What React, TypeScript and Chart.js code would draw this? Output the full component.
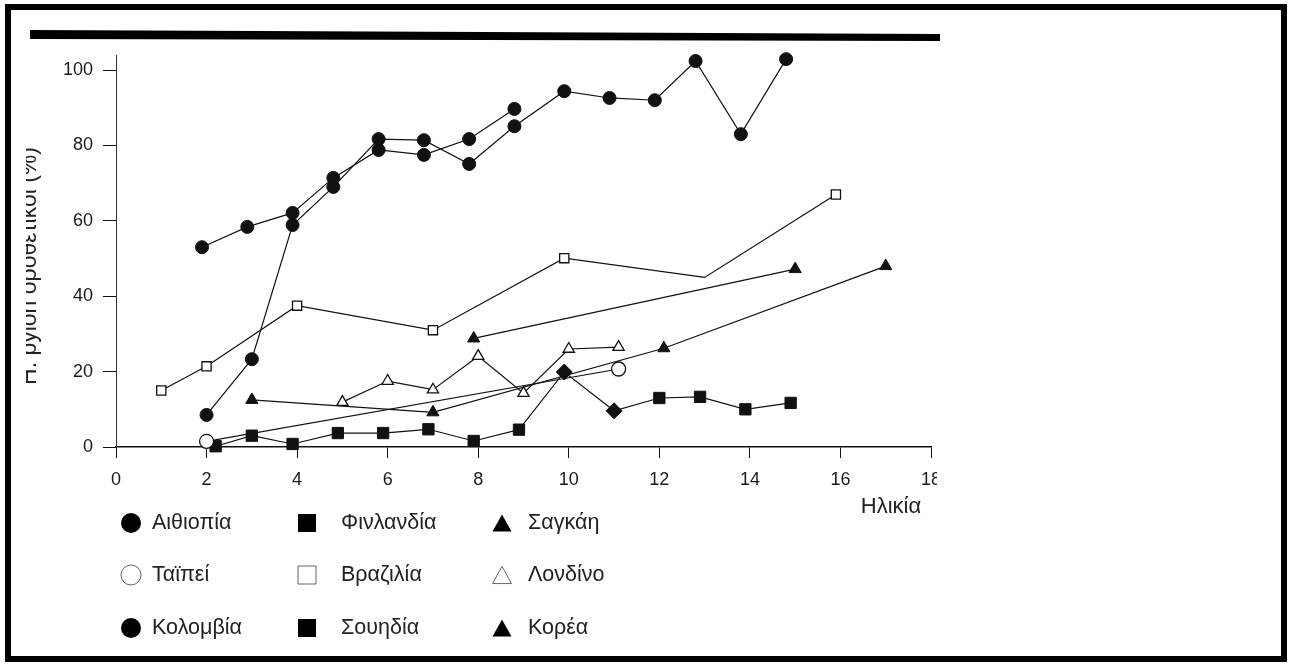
import React, { useEffect, useRef } from "react";
import { Chart, registerables } from "chart.js";

Chart.register(...registerables);

// ---------------- data ----------------
const xTickValues = [0, 2, 4, 6, 8, 10, 12, 14, 16, 18];
const yTickValues = [0, 20, 40, 60, 80, 100];

const ethiopiaAge = [2.0, 3.0, 3.9, 4.8, 5.8, 6.8, 7.8, 8.8, 9.9, 10.9, 11.9, 12.8, 13.8, 14.8];
const ethiopiaPct = [8.5, 23.3, 58.9, 69.0, 81.7, 81.4, 75.1, 85.1, 94.4, 92.6, 92.0, 102.4, 83.0, 102.9];

const taipeiAge = [2.0, 11.1];
const taipeiPct = [1.5, 20.7];

const colombiaAge = [1.9, 2.9, 3.9, 4.8, 5.8, 6.8, 7.8, 8.8];
const colombiaPct = [53.0, 58.4, 62.1, 71.4, 78.8, 77.5, 81.7, 89.7];

const finlandAge = [2.2, 3.0, 3.9, 4.9, 5.9, 6.9, 7.9, 8.9];
const finlandPct = [0.2, 3.0, 0.8, 3.7, 3.7, 4.7, 1.6, 4.6];

const brazilAge = [1.0, 2.0, 4.0, 7.0, 9.9, 13.0, 15.9];
const brazilPct = [15.0, 21.4, 37.5, 31.0, 50.1, 45.0, 67.0];

const swedenAge = [9.9, 11.0, 12.0, 12.9, 13.9, 14.9];
const swedenPct = [19.9, 9.6, 13.0, 13.3, 10.0, 11.7];

const shanghaiAge = [7.9, 15.0];
const shanghaiPct = [28.8, 47.2];

const londonAge = [5.0, 6.0, 7.0, 8.0, 9.0, 10.0, 11.1];
const londonPct = [11.9, 17.5, 15.2, 24.1, 14.3, 26.0, 26.5];

const koreaAge = [3.0, 7.0, 12.1, 17.0];
const koreaPct = [12.5, 9.2, 26.2, 48.0];

const seriesNames = [
  "Αιθιοπία",
  "Ταϊπεί",
  "Κολομβία",
  "Φινλανδία",
  "Βραζιλία",
  "Σουηδία",
  "Σαγκάη",
  "Λονδίνο",
  "Κορέα",
];
const yAxisTitle = "H. pylori οροθετικοί (%)";
const xAxisTitle = "Ηλικία";

// ---------------- helpers ----------------
const pts = (xs: number[], ys: number[]) => xs.map((x, i) => ({ x, y: ys[i] }));

type Shape = "circle" | "rect" | "triangle";
const markerKinds: { shape: Shape; filled: boolean }[] = [
  { shape: "circle", filled: true },
  { shape: "circle", filled: false },
  { shape: "circle", filled: true },
  { shape: "rect", filled: true },
  { shape: "rect", filled: false },
  { shape: "rect", filled: true },
  { shape: "triangle", filled: true },
  { shape: "triangle", filled: false },
  { shape: "triangle", filled: true },
];

const markerRadius = (shape: Shape, filled: boolean) => {
  if (shape === "circle") return filled ? 6.5 : 7;
  if (shape === "rect") return filled ? 8 : 6.5;
  return filled ? 7 : 6.5;
};

const FONT = '"Liberation Sans", Arial, Helvetica, sans-serif';
const INK = "#111";

function makeDataset(i: number, data: { x: number; y: number }[], extra: any = {}) {
  const k = markerKinds[i];
  return {
    label: seriesNames[i],
    data,
    showLine: true,
    borderColor: INK,
    borderWidth: 1.2,
    pointStyle: k.shape,
    pointRadius: markerRadius(k.shape, k.filled),
    pointBackgroundColor: k.filled ? INK : "#fff",
    pointBorderColor: INK,
    pointBorderWidth: k.filled ? 1 : 1.3,
    tension: 0,
    clip: false,
    ...extra,
  };
}

function drawMarker(ctx: CanvasRenderingContext2D, shape: Shape, filled: boolean, x: number, y: number, s: number) {
  ctx.save();
  ctx.beginPath();
  if (shape === "circle") ctx.arc(x, y, s / 2, 0, Math.PI * 2);
  else if (shape === "rect") ctx.rect(x - s / 2, y - s / 2, s, s);
  else {
    const h = s * 0.9;
    ctx.moveTo(x, y - h / 2);
    ctx.lineTo(x + s / 2, y + h / 2);
    ctx.lineTo(x - s / 2, y + h / 2);
    ctx.closePath();
  }
  if (filled) {
    ctx.fillStyle = "#000";
    ctx.fill();
  } else {
    ctx.fillStyle = "#fff";
    ctx.fill();
    ctx.strokeStyle = "#666";
    ctx.lineWidth = 1;
    ctx.stroke();
  }
  ctx.restore();
}

const decorPlugin = {
  id: "decor",
  beforeDraw(chart: any) {
    const ctx = chart.ctx as CanvasRenderingContext2D;
    ctx.save();
    ctx.fillStyle = "#fff";
    ctx.fillRect(0, 0, chart.width, chart.height);
    ctx.restore();
  },
  afterDraw(chart: any) {
    const ctx = chart.ctx as CanvasRenderingContext2D;
    const area = chart.chartArea;

    // y axis title (tops of glyphs lost in the scan)
    ctx.save();
    ctx.beginPath();
    ctx.rect(26, 0, 40, chart.height);
    ctx.clip();
    ctx.translate(36, 266);
    ctx.rotate(-Math.PI / 2);
    ctx.font = `23px ${FONT}`;
    ctx.fillStyle = "#222";
    ctx.textAlign = "center";
    ctx.textBaseline = "alphabetic";
    ctx.fillText(yAxisTitle, 0, 0);
    ctx.restore();

    // scan cut on the right side of the figure
    ctx.save();
    ctx.fillStyle = "#fff";
    ctx.fillRect(area.right + 6, area.bottom + 14, 60, 40);
    ctx.restore();

    // x axis title
    ctx.save();
    ctx.font = `22px ${FONT}`;
    ctx.fillStyle = "#222";
    ctx.textAlign = "center";
    ctx.textBaseline = "middle";
    ctx.fillText(xAxisTitle, 891, 507);
    ctx.restore();

    // thick top rule
    ctx.save();
    ctx.fillStyle = "#000";
    ctx.beginPath();
    ctx.moveTo(30, 30);
    ctx.lineTo(940, 34);
    ctx.lineTo(940, 41);
    ctx.lineTo(30, 39);
    ctx.closePath();
    ctx.fill();
    ctx.restore();

    // legend (3 x 3, column-major)
    const colMarkerX = [131, 307, 502];
    const colTextX = [152, 341, 528];
    const rowY = [523, 575, 628];
    const sizes: Record<Shape, number> = { circle: 20, rect: 18, triangle: 19 };
    ctx.save();
    ctx.font = `21.5px ${FONT}`;
    ctx.textAlign = "left";
    ctx.textBaseline = "middle";
    seriesNames.forEach((name, i) => {
      const c = Math.floor(i / 3);
      const r = i % 3;
      const k = markerKinds[i];
      drawMarker(ctx, k.shape, k.filled, colMarkerX[c], rowY[r], sizes[k.shape]);
      ctx.fillStyle = "#222";
      ctx.fillText(name, colTextX[c], rowY[r]);
    });
    ctx.restore();

    // frame
    ctx.save();
    ctx.strokeStyle = "#000";
    ctx.lineWidth = 6;
    ctx.strokeRect(8, 7, 1276, 652);
    ctx.restore();
  },
};

export default function App() {
  const ref = useRef<HTMLCanvasElement>(null);

  useEffect(() => {
    const canvas = ref.current;
    if (!canvas) return;

    const swedenLinked = [
      { x: finlandAge[finlandAge.length - 1], y: finlandPct[finlandPct.length - 1] },
      ...pts(swedenAge, swedenPct),
    ];
    const brazilUnmarkedIndex = 5;

    const datasets = [
      makeDataset(0, pts(ethiopiaAge, ethiopiaPct)),
      makeDataset(1, pts(taipeiAge, taipeiPct)),
      makeDataset(2, pts(colombiaAge, colombiaPct)),
      makeDataset(3, pts(finlandAge, finlandPct)),
      makeDataset(4, pts(brazilAge, brazilPct), {
        pointRadius: (c: any) => (c.dataIndex === brazilUnmarkedIndex ? 0 : 6.5),
      }),
      makeDataset(5, swedenLinked, {
        pointRadius: (c: any) => (c.dataIndex === 0 ? 0 : 8),
        pointRotation: (c: any) => (c.dataIndex === 1 || c.dataIndex === 2 ? 45 : 0),
      }),
      makeDataset(6, pts(shanghaiAge, shanghaiPct)),
      makeDataset(7, pts(londonAge, londonPct)),
      makeDataset(8, pts(koreaAge, koreaPct)),
    ];

    const W = 1292;
    const H = 668;
    const plotLeft = 116;
    const plotRight = 931;
    const plotTop = 55;
    const plotBottom = 447;
    const xScaleHeight = 40;

    const tickFont = { family: FONT, size: 18 };

    const chart = new Chart(canvas, {
      type: "scatter",
      data: { datasets: datasets as any },
      options: {
        responsive: false,
        animation: false,
        devicePixelRatio: 1,
        layout: {
          padding: {
            left: 0,
            right: W - plotRight,
            top: plotTop,
            bottom: H - plotBottom - xScaleHeight,
          },
        },
        plugins: {
          legend: { display: false },
          tooltip: { enabled: false },
          title: { display: false },
        },
        scales: {
          x: {
            type: "linear",
            min: 0,
            max: 18,
            afterBuildTicks: (s: any) => {
              s.ticks = xTickValues.map((v) => ({ value: v }));
            },
            afterFit: (s: any) => {
              s.height = xScaleHeight;
            },
            grid: {
              drawOnChartArea: false,
              drawTicks: true,
              tickLength: 11,
              color: INK,
              lineWidth: 1,
            },
            border: { display: true, color: INK, width: 1.5 },
            ticks: {
              font: tickFont,
              color: "#1a1a1a",
              padding: 11,
              maxRotation: 0,
              autoSkip: false,
            },
          },
          y: {
            type: "linear",
            min: 0,
            max: 104,
            afterBuildTicks: (s: any) => {
              s.ticks = yTickValues.map((v) => ({ value: v }));
            },
            afterFit: (s: any) => {
              s.width = plotLeft;
            },
            grid: {
              drawOnChartArea: false,
              drawTicks: true,
              tickLength: 13,
              color: INK,
              lineWidth: 1,
            },
            border: { display: true, color: "#333", width: 1 },
            ticks: {
              font: tickFont,
              color: "#1a1a1a",
              padding: 10,
              autoSkip: false,
            },
          },
        },
      } as any,
      plugins: [decorPlugin as any],
    });

    return () => chart.destroy();
  }, []);

  return (
    <div
      style={{
        position: "absolute",
        left: 0,
        top: 0,
        width: 1292,
        height: 668,
        background: "#fff",
      }}
    >
      <canvas ref={ref} width={1292} height={668} style={{ display: "block", width: 1292, height: 668 }} />
    </div>
  );
}
